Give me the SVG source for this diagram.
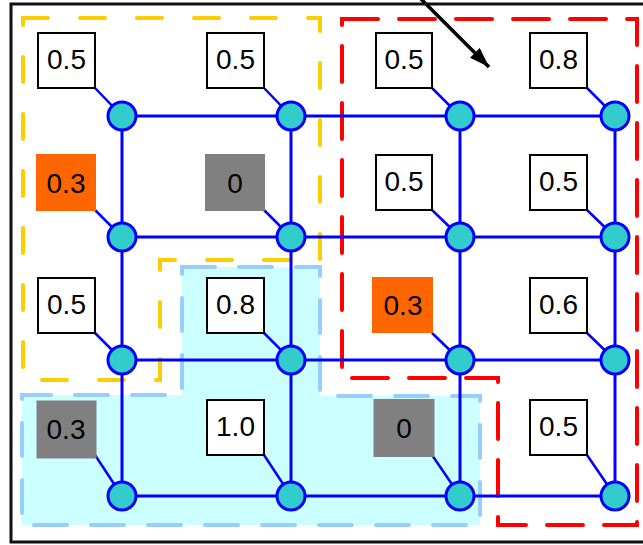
<svg xmlns="http://www.w3.org/2000/svg" width="643" height="545" viewBox="0 0 643 545">
<style>
.bx{fill:#fff;stroke:#000;stroke-width:2}
.or{fill:#FF6600;stroke:#FF6600;stroke-width:1}
.gr{fill:#808080;stroke:#808080;stroke-width:1}
.t{font-family:"Liberation Sans",Arial,sans-serif;font-size:28px;text-anchor:middle;fill:#000}
.c{fill:#33CCCC;stroke:#0000FF;stroke-width:3}
.ln{stroke:#0000FF;stroke-width:3;fill:none}
.dg{stroke:#0000FF;stroke-width:2.5;fill:none}
</style>
<defs>
<marker id="ah" viewBox="0 0 20 14" refX="20" refY="7" markerWidth="20" markerHeight="14" markerUnits="userSpaceOnUse" orient="auto">
<path d="M0,0 L20,7 L0,14 Z" fill="#000"/>
</marker>
</defs>
<rect x="0" y="0" width="643" height="545" fill="#fff"/>
<rect x="11" y="4" width="700" height="538" fill="none" stroke="#111" stroke-width="3"/>
<g id="regions">
<polygon id="region-blue" points="182,267 320,267 320,396 480,396 480,525 22,525 22,395 182,395" fill="#CCFFFF" stroke="#99CCFF" stroke-width="4" stroke-dasharray="33,24" stroke-linecap="round"/>
<polygon id="region-yellow" points="23,18 320,18 320,260 160,260 160,380 23,380" fill="none" stroke="#FFCC00" stroke-width="4" stroke-dasharray="25,32" stroke-linecap="round"/>
<polygon id="region-red" points="342,19 637,19 637,525 498,525 498,378 342,378" fill="none" stroke="#FF0000" stroke-width="4" stroke-dasharray="36,21" stroke-linecap="round"/>
</g>
<g id="connectors">
<path class="ln" d="M122,116H615M122,237H615M122,360H615M122,496H615M122,116V496M291,116V496M460,116V496M615,116V496"/>
<path class="dg" d="M95,88L122,116M264,88L291,116M432,88L460,116M587,88L615,116M95,210L122,237M264,210L291,237M432,210L460,237M587,210L615,237M95,333L122,360M264,333L291,360M432,333L460,360M587,333L615,360M95,455L122,496M264,455L291,496M432,455L460,496M587,455L615,496"/>
<line x1="410" y1="-12" x2="489" y2="67" stroke="#000" stroke-width="3.5" marker-end="url(#ah)"/>
</g>
<g id="n1"><circle class="c" cx="122" cy="116" r="14"/></g>
<g id="n2"><circle class="c" cx="291" cy="116" r="14"/></g>
<g id="n3"><circle class="c" cx="460" cy="116" r="14"/></g>
<g id="n4"><circle class="c" cx="615" cy="116" r="14"/></g>
<g id="n5"><circle class="c" cx="122" cy="237" r="14"/></g>
<g id="n6"><circle class="c" cx="291" cy="237" r="14"/></g>
<g id="n7"><circle class="c" cx="460" cy="237" r="14"/></g>
<g id="n8"><circle class="c" cx="615" cy="237" r="14"/></g>
<g id="n9"><circle class="c" cx="122" cy="360" r="14"/></g>
<g id="n10"><circle class="c" cx="291" cy="360" r="14"/></g>
<g id="n11"><circle class="c" cx="460" cy="360" r="14"/></g>
<g id="n12"><circle class="c" cx="615" cy="360" r="14"/></g>
<g id="n13"><circle class="c" cx="122" cy="496" r="14"/></g>
<g id="n14"><circle class="c" cx="291" cy="496" r="14"/></g>
<g id="n15"><circle class="c" cx="460" cy="496" r="14"/></g>
<g id="n16"><circle class="c" cx="615" cy="496" r="14"/></g>
<g id="b1"><rect class="bx" x="38" y="33" width="57" height="55"/><text class="t" x="66.5" y="68.5">0.5</text></g>
<g id="b2"><rect class="bx" x="207" y="33" width="57" height="55"/><text class="t" x="235.5" y="68.5">0.5</text></g>
<g id="b3"><rect class="bx" x="376" y="33" width="56" height="55"/><text class="t" x="404" y="68.5">0.5</text></g>
<g id="b4"><rect class="bx" x="530" y="33" width="57" height="55"/><text class="t" x="558.5" y="68.5">0.8</text></g>
<g id="b5"><rect class="or" x="36.5" y="154.5" width="59" height="56"/><text class="t" x="66" y="192.5">0.3</text></g>
<g id="b6"><rect class="gr" x="205.5" y="154.5" width="59" height="56"/><text class="t" x="235" y="192.5">0</text></g>
<g id="b7"><rect class="bx" x="376" y="155" width="56" height="55"/><text class="t" x="404" y="191">0.5</text></g>
<g id="b8"><rect class="bx" x="530" y="155" width="57" height="55"/><text class="t" x="558.5" y="191">0.5</text></g>
<g id="b9"><rect class="bx" x="38" y="278" width="57" height="55"/><text class="t" x="66.5" y="313.5">0.5</text></g>
<g id="b10"><rect class="bx" x="207" y="278" width="57" height="55"/><text class="t" x="235.5" y="313.5">0.8</text></g>
<g id="b11"><rect class="or" x="372.5" y="277.5" width="60" height="55"/><text class="t" x="403" y="314.5">0.3</text></g>
<g id="b12"><rect class="bx" x="530" y="278" width="57" height="55"/><text class="t" x="558.5" y="313.5">0.6</text></g>
<g id="b13"><rect class="gr" x="37" y="401" width="59" height="57"/><text class="t" x="66" y="438.5">0.3</text></g>
<g id="b14"><rect class="bx" x="207" y="400" width="57" height="55"/><text class="t" x="235.5" y="435.5">1.0</text></g>
<g id="b15"><rect class="gr" x="374" y="399.5" width="60" height="57"/><text class="t" x="404" y="437.5">0</text></g>
<g id="b16"><rect class="bx" x="530" y="400" width="57" height="55"/><text class="t" x="558.5" y="435.5">0.5</text></g>
</svg>
